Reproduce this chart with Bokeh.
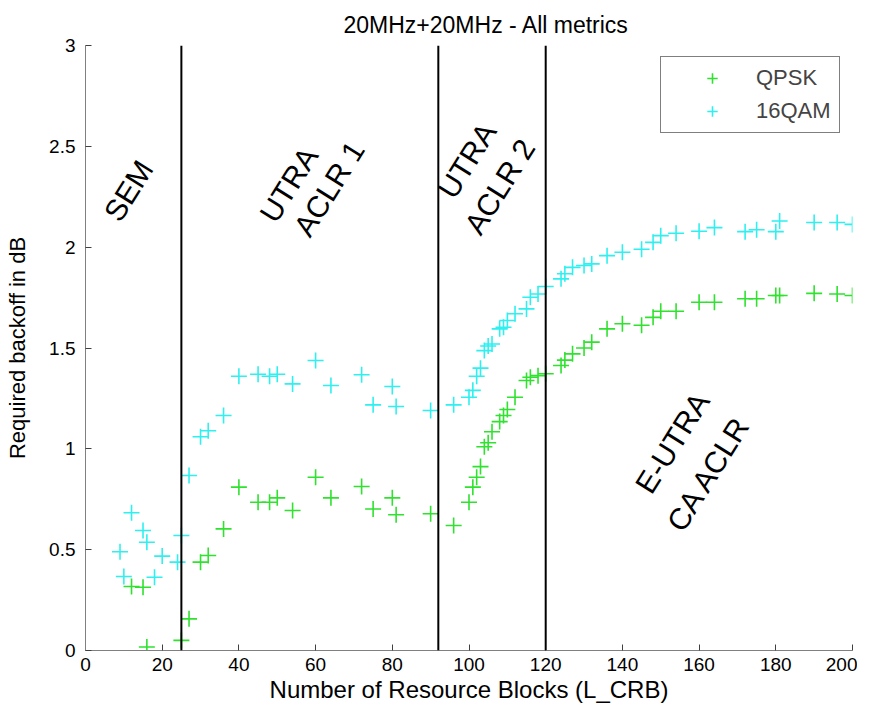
from bokeh.plotting import figure
from bokeh.models import FixedTicker, Span, Legend, LegendItem, ColumnDataSource
from bokeh.embed import file_html
from bokeh.resources import INLINE
from bokeh.core.properties import value
import math

# ---------------- data ----------------
rb_qpsk = [12, 15, 16, 25, 27, 30, 32, 36, 40, 45, 48, 50, 54, 60, 64, 72, 75, 80, 81, 90, 96, 100,
           101, 102, 103, 104, 105, 106, 108, 109, 110, 112, 115, 116, 118, 120,
           124, 125, 127, 130, 132, 136, 140, 145, 148, 150, 154, 160, 164, 172, 175, 180, 181, 190, 196, 200]
backoff_qpsk = [0.317, 0.314, 0.017, 0.05, 0.157, 0.438, 0.471, 0.603, 0.81, 0.735, 0.735, 0.757, 0.694,
                0.859, 0.757, 0.813, 0.702, 0.757, 0.673, 0.678, 0.62, 0.735,
                0.81, 0.859, 0.912, 1.01, 1.03, 1.085, 1.135, 1.165, 1.195, 1.256, 1.339, 1.355, 1.363, 1.372,
                1.413, 1.44, 1.471, 1.50, 1.529, 1.595, 1.62, 1.613, 1.652, 1.682, 1.682, 1.727, 1.727,
                1.744, 1.744, 1.76, 1.76, 1.771, 1.768, 1.76]

rb_16qam = [9, 10, 12, 15, 16, 18, 20, 24, 25, 27, 30, 32, 36, 40, 45, 48, 50, 54, 60, 64, 72, 75, 80, 81, 90, 96, 100,
            101, 102, 103, 104, 105, 106, 108, 109, 110, 112, 115, 116, 118, 120,
            124, 125, 127, 130, 132, 136, 140, 145, 148, 150, 154, 160, 164, 172, 175, 180, 181, 190, 196, 200]
backoff_16qam = [0.49, 0.367, 0.683, 0.595, 0.537, 0.363, 0.468, 0.438, 0.57, 0.868, 1.06, 1.09, 1.165, 1.36,
                 1.37, 1.36, 1.37, 1.322, 1.438, 1.314, 1.367, 1.218, 1.309, 1.21, 1.19, 1.218, 1.256,
                 1.29, 1.36, 1.40, 1.487, 1.51, 1.52, 1.595, 1.603, 1.636, 1.67, 1.694, 1.752, 1.768, 1.805,
                 1.843, 1.868, 1.90, 1.909, 1.917, 1.958, 1.975, 1.99, 2.024, 2.057, 2.069, 2.079, 2.097,
                 2.077, 2.086, 2.077, 2.13, 2.122, 2.122, 2.113]

region_bounds = [25, 92, 120]

x_ticks = [0, 20, 40, 60, 80, 100, 120, 140, 160, 180, 200]
x_tick_labels = ["0", "20", "40", "60", "80", "100", "120", "140", "160", "180", "200"]
y_ticks = [0, 0.5, 1, 1.5, 2, 2.5, 3]
y_tick_labels = ["0", "0.5", "1", "1.5", "2", "2.5", "3"]

region_texts = ["SEM", "UTRA", "ACLR 1", "UTRA", "ACLR 2", "E-UTRA", "CA ACLR"]
region_text_x = [11.2, 53.0, 63.5, 99.5, 108.0, 153.0, 162.5]
region_text_y = [2.28, 2.31, 2.29, 2.43, 2.30, 1.03, 0.88]

FONT = "Liberation Sans"

p = figure(width=857, height=705, x_range=(0, 200), y_range=(0, 3),
           output_backend="svg", toolbar_location=None,
           min_border_left=85, min_border_right=5, min_border_top=45, min_border_bottom=55,
           title="20MHz+20MHz - All metrics")
p.title.text_font = FONT
p.title.text_font_size = "23px"
p.title.text_font_style = "normal"
p.title.align = "left"
p.title.offset = 258
p.title.standoff = 12
p.title.vertical_align = "top"
p.title.text_color = "#000000"

p.xgrid.visible = False
p.ygrid.visible = False
p.outline_line_color = None

for ax in (p.xaxis[0], p.yaxis[0]):
    ax.major_tick_in = 6
    ax.major_tick_out = 0
    ax.minor_tick_line_color = None
    ax.axis_line_color = "#808080"
    ax.major_tick_line_color = "#404040"
    ax.major_label_text_font = FONT
    ax.major_label_text_font_size = "19px"
    ax.major_label_text_color = "#000000"
    ax.axis_label_text_font = FONT
    ax.axis_label_text_font_style = "normal"
    ax.axis_label_text_color = "#000000"

p.xaxis.axis_label_text_font_size = "24px"
p.yaxis.axis_label_text_font_size = "22px"
p.xaxis.ticker = FixedTicker(ticks=x_ticks)
p.xaxis.major_label_overrides = dict(zip(x_ticks, x_tick_labels))
p.yaxis.ticker = FixedTicker(ticks=y_ticks)
p.yaxis.major_label_overrides = dict(zip(y_ticks, y_tick_labels))
p.xaxis.axis_label = "Number of Resource Blocks (L_CRB)"
p.yaxis.axis_label = "Required backoff in dB"
p.xaxis.major_label_standoff = 7
p.yaxis.major_label_standoff = 10
p.xaxis.axis_label_standoff = 2
p.yaxis.axis_label_standoff = 16

for b in region_bounds:
    p.add_layout(Span(location=b, dimension="height", line_color="black", line_width=2))

src_q = ColumnDataSource(dict(x=rb_qpsk, y=backoff_qpsk))
src_16 = ColumnDataSource(dict(x=rb_16qam, y=backoff_16qam))
r_q = p.scatter("x", "y", source=src_q, marker="cross", size=16, line_width=1.6, line_color="#2ee22e")
r_16 = p.scatter("x", "y", source=src_16, marker="cross", size=16, line_width=1.6, line_color="#2ef0f0")

angle = math.radians(58)
src_t = ColumnDataSource(dict(x=region_text_x, y=region_text_y, t=region_texts))
p.text("x", "y", text="t", source=src_t, angle=angle, text_font=value(FONT), text_font_size="30px",
       text_align="center", text_baseline="middle", text_color="black")

legend = Legend(items=[LegendItem(label="QPSK", renderers=[r_q]),
                       LegendItem(label="16QAM", renderers=[r_16])],
                location=(575, 517))
legend.label_text_font = FONT
legend.label_text_font_size = "22px"
legend.border_line_color = "black"
legend.border_line_width = 1.5
legend.padding = 8
legend.spacing = 7
legend.glyph_width = 86
legend.glyph_height = 26
legend.label_standoff = 1
legend.margin = 0
p.add_layout(legend)

open("out.html", "w").write(file_html(p, INLINE))
